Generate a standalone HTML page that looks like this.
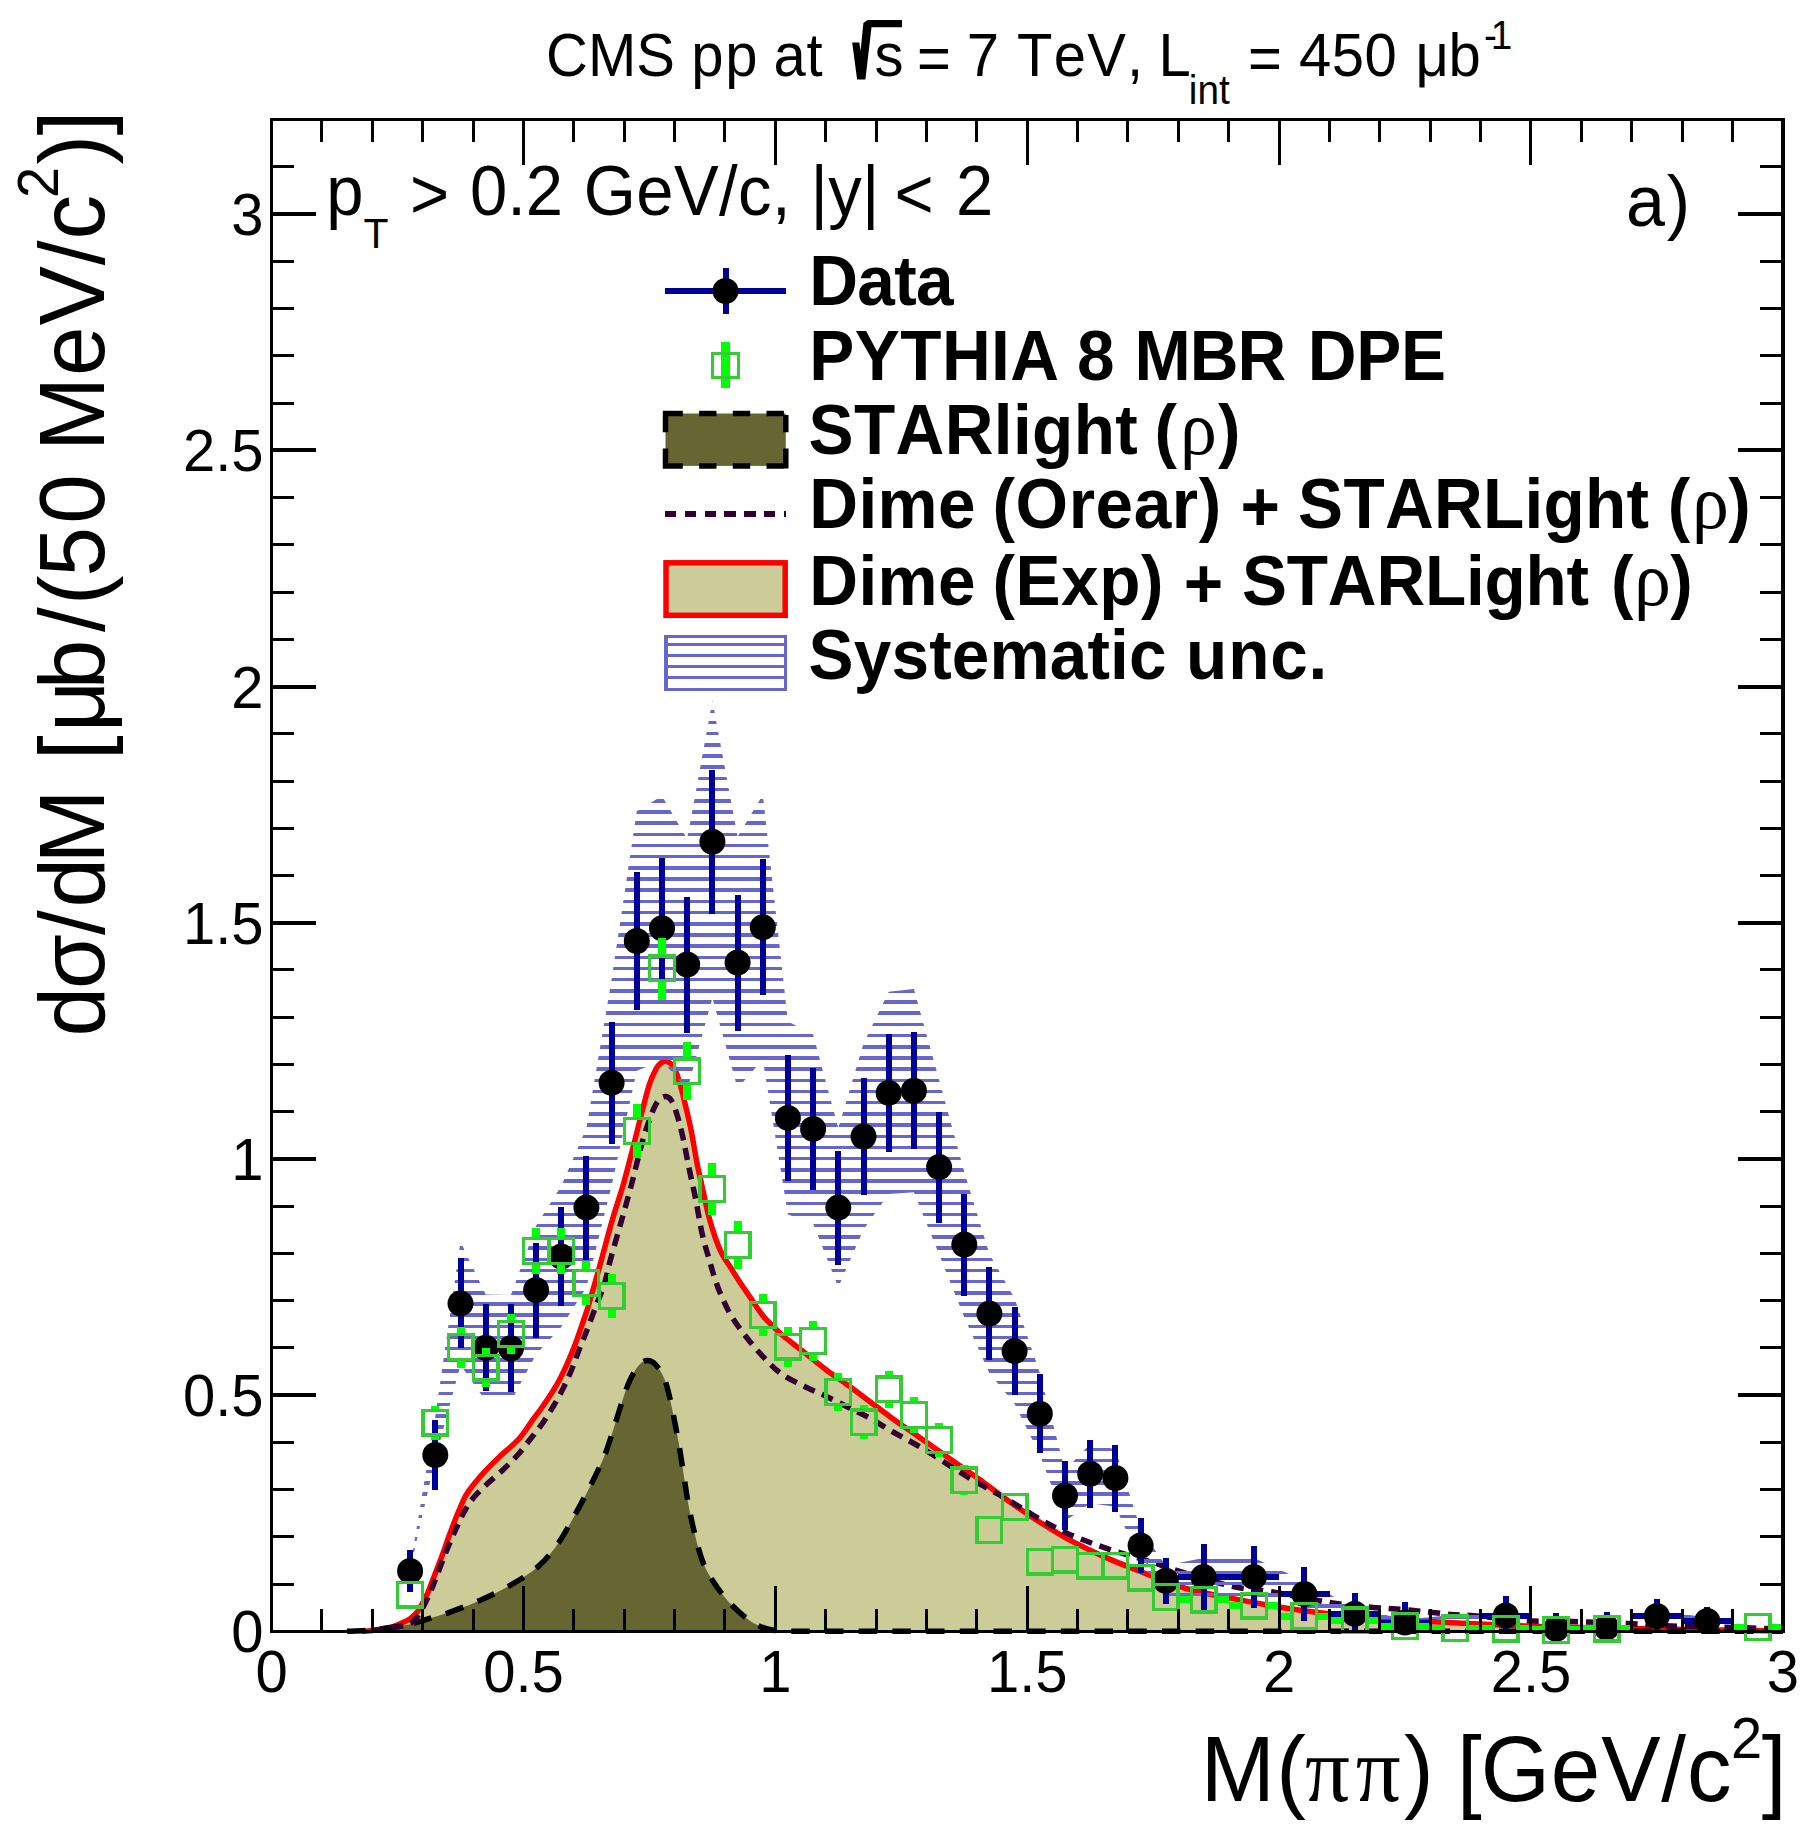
<!DOCTYPE html>
<html lang="en"><head><meta charset="utf-8"><title>CMS pp at 7 TeV - M(pipi) exclusive cross section</title>
<style>
html,body{margin:0;padding:0;background:#fff;}
body{width:1818px;height:1840px;overflow:hidden;}
svg{display:block;}
text{font-family:"Liberation Sans",sans-serif;fill:#000;font-kerning:none;white-space:pre;}
.b{font-weight:bold;}
.gr{font-family:"Liberation Serif",serif;font-weight:normal;}
.tk{font-size:58px;}
</style></head><body>
<svg width="1818" height="1840" viewBox="0 0 1818 1840">
<rect x="0" y="0" width="1818" height="1840" fill="#fff"/>
<path d="M362,1631.3C363.6,1631.2 366.9,1631.2 371.6,1630.6C376.3,1630 385.3,1628.6 390,1627.5C394.7,1626.4 396.7,1625.2 400,1623.8C403.3,1622.4 406.9,1621.1 409.9,1618.9C412.9,1616.7 415.4,1614.4 418.2,1610.6C420.9,1606.8 423.9,1601 426.4,1595.8C428.9,1590.6 430.5,1585.6 433,1579.3C435.5,1573 438.6,1565.2 441.3,1557.8C444.1,1550.4 446.8,1542.1 449.5,1534.7C452.2,1527.3 455.1,1519.9 457.8,1513.3C460.6,1506.7 463.2,1500 466,1495.1C468.8,1490.1 471,1487.7 474.3,1483.6C477.6,1479.5 481.7,1474.8 485.8,1470.4C489.9,1466 493.5,1462.4 499,1457.2C504.5,1452 513.3,1445 518.8,1439C524.3,1433 527.6,1427 532,1420.9C536.4,1414.9 541.1,1408.8 545.2,1402.7C549.3,1396.7 553.2,1390.9 556.8,1384.6C560.4,1378.3 563.7,1371.4 566.7,1364.8C569.7,1358.2 572.2,1352.1 574.9,1345C577.6,1337.9 580.6,1328.9 583,1322C585.4,1315.1 586.2,1313.3 589,1303.8C591.8,1294.3 596.2,1278.8 600,1265C603.8,1251.2 608.2,1234.2 612,1221C615.8,1207.8 619.3,1198.5 623,1185.6C626.7,1172.7 630.7,1156.6 634,1143.8C637.3,1131 640.2,1118.5 642.8,1108.6C645.4,1098.7 647.2,1091 649.4,1084.4C651.6,1077.8 654.1,1072.6 656,1069C657.9,1065.4 659.4,1064.3 661,1063C662.6,1061.7 664.3,1061.2 665.9,1061.3C667.5,1061.4 669,1062.2 670.5,1063.5C672,1064.8 673.1,1065.5 674.7,1069C676.3,1072.5 678.4,1078.2 680.2,1084.4C682,1090.6 683.9,1098.7 685.7,1106.4C687.5,1114.1 689.4,1121.4 691.2,1130.6C693,1139.8 694.9,1152 696.7,1161.4C698.5,1170.8 700.2,1177.8 702.2,1187C704.2,1196.2 706.6,1207.9 708.8,1216.4C711,1224.9 713.2,1231.7 715.4,1238C717.6,1244.3 719.5,1249.1 722,1254C724.5,1258.9 727.6,1262.8 730.6,1267.5C733.6,1272.2 736.6,1277.3 740,1282.5C743.4,1287.7 747.1,1292.8 751,1298.5C754.9,1304.2 759.7,1311.8 763.5,1316.5C767.3,1321.2 770.7,1323.9 773.8,1327C776.9,1330.1 777,1330.8 782,1335C787,1339.2 796.7,1346.4 804,1352.2C811.3,1358 818.7,1364.3 826,1369.8C833.3,1375.3 840.7,1379.9 848,1385.2C855.3,1390.5 862.7,1396.2 870,1401.7C877.3,1407.2 884.7,1412.9 892,1418.2C899.3,1423.5 906.7,1428.5 914,1433.6C921.3,1438.7 928.7,1443.9 936,1449C943.3,1454.1 950.7,1459.3 958,1464.4C965.3,1469.5 972.7,1474.5 980,1479.8C987.3,1485.1 994.7,1491 1002,1496.3C1009.3,1501.6 1016.7,1506.8 1024,1511.7C1031.3,1516.7 1038.7,1521.4 1046,1526C1053.3,1530.6 1060.7,1535.2 1068,1539.2C1075.3,1543.2 1082.7,1546.7 1090,1550.2C1097.3,1553.7 1104.7,1557 1112,1560.1C1119.3,1563.2 1126.7,1566 1134,1568.9C1141.3,1571.8 1147,1574.2 1156,1577.5C1165,1580.8 1175.3,1585.5 1188,1589C1200.7,1592.5 1216.6,1595.4 1232,1598.4C1247.4,1601.4 1265.7,1604.8 1280.4,1607.2C1295.1,1609.6 1304.2,1610.9 1320,1612.7C1335.8,1614.5 1356.7,1616.7 1375,1618.2C1393.3,1619.7 1409.8,1620.4 1430,1621.5C1450.2,1622.6 1476,1623.9 1496,1624.8C1516,1625.7 1524.3,1626.1 1550,1626.8C1575.7,1627.5 1616.7,1628.2 1650,1628.8C1683.3,1629.4 1727.8,1630.1 1750,1630.5C1772.2,1630.9 1777.5,1630.9 1783,1631 L1783,1631.3 L362,1631.3 Z" fill="#cccc99" stroke="none"/>
<path d="M362,1631.3C363.6,1631.2 366.9,1631.2 371.6,1630.6C376.3,1630 385.3,1628.6 390,1627.5C394.7,1626.4 396.7,1625.2 400,1623.8C403.3,1622.4 406.9,1621.1 409.9,1618.9C412.9,1616.7 415.4,1614.4 418.2,1610.6C420.9,1606.8 423.9,1601 426.4,1595.8C428.9,1590.6 430.5,1585.6 433,1579.3C435.5,1573 438.6,1565.2 441.3,1557.8C444.1,1550.4 446.8,1542.1 449.5,1534.7C452.2,1527.3 455.1,1519.9 457.8,1513.3C460.6,1506.7 463.2,1500 466,1495.1C468.8,1490.1 471,1487.7 474.3,1483.6C477.6,1479.5 481.7,1474.8 485.8,1470.4C489.9,1466 493.5,1462.4 499,1457.2C504.5,1452 513.3,1445 518.8,1439C524.3,1433 527.6,1427 532,1420.9C536.4,1414.9 541.1,1408.8 545.2,1402.7C549.3,1396.7 553.2,1390.9 556.8,1384.6C560.4,1378.3 563.7,1371.4 566.7,1364.8C569.7,1358.2 572.2,1352.1 574.9,1345C577.6,1337.9 580.6,1328.9 583,1322C585.4,1315.1 586.2,1313.3 589,1303.8C591.8,1294.3 596.2,1278.8 600,1265C603.8,1251.2 608.2,1234.2 612,1221C615.8,1207.8 619.3,1198.5 623,1185.6C626.7,1172.7 630.7,1156.6 634,1143.8C637.3,1131 640.2,1118.5 642.8,1108.6C645.4,1098.7 647.2,1091 649.4,1084.4C651.6,1077.8 654.1,1072.6 656,1069C657.9,1065.4 659.4,1064.3 661,1063C662.6,1061.7 664.3,1061.2 665.9,1061.3C667.5,1061.4 669,1062.2 670.5,1063.5C672,1064.8 673.1,1065.5 674.7,1069C676.3,1072.5 678.4,1078.2 680.2,1084.4C682,1090.6 683.9,1098.7 685.7,1106.4C687.5,1114.1 689.4,1121.4 691.2,1130.6C693,1139.8 694.9,1152 696.7,1161.4C698.5,1170.8 700.2,1177.8 702.2,1187C704.2,1196.2 706.6,1207.9 708.8,1216.4C711,1224.9 713.2,1231.7 715.4,1238C717.6,1244.3 719.5,1249.1 722,1254C724.5,1258.9 727.6,1262.8 730.6,1267.5C733.6,1272.2 736.6,1277.3 740,1282.5C743.4,1287.7 747.1,1292.8 751,1298.5C754.9,1304.2 759.7,1311.8 763.5,1316.5C767.3,1321.2 770.7,1323.9 773.8,1327C776.9,1330.1 777,1330.8 782,1335C787,1339.2 796.7,1346.4 804,1352.2C811.3,1358 818.7,1364.3 826,1369.8C833.3,1375.3 840.7,1379.9 848,1385.2C855.3,1390.5 862.7,1396.2 870,1401.7C877.3,1407.2 884.7,1412.9 892,1418.2C899.3,1423.5 906.7,1428.5 914,1433.6C921.3,1438.7 928.7,1443.9 936,1449C943.3,1454.1 950.7,1459.3 958,1464.4C965.3,1469.5 972.7,1474.5 980,1479.8C987.3,1485.1 994.7,1491 1002,1496.3C1009.3,1501.6 1016.7,1506.8 1024,1511.7C1031.3,1516.7 1038.7,1521.4 1046,1526C1053.3,1530.6 1060.7,1535.2 1068,1539.2C1075.3,1543.2 1082.7,1546.7 1090,1550.2C1097.3,1553.7 1104.7,1557 1112,1560.1C1119.3,1563.2 1126.7,1566 1134,1568.9C1141.3,1571.8 1147,1574.2 1156,1577.5C1165,1580.8 1175.3,1585.5 1188,1589C1200.7,1592.5 1216.6,1595.4 1232,1598.4C1247.4,1601.4 1265.7,1604.8 1280.4,1607.2C1295.1,1609.6 1304.2,1610.9 1320,1612.7C1335.8,1614.5 1356.7,1616.7 1375,1618.2C1393.3,1619.7 1409.8,1620.4 1430,1621.5C1450.2,1622.6 1476,1623.9 1496,1624.8C1516,1625.7 1524.3,1626.1 1550,1626.8C1575.7,1627.5 1616.7,1628.2 1650,1628.8C1683.3,1629.4 1727.8,1630.1 1750,1630.5C1772.2,1630.9 1777.5,1630.9 1783,1631" fill="none" stroke="#ff0000" stroke-width="5.5" stroke-linejoin="round"/>
<path d="M347,1631.3C351.1,1631.1 363.6,1630.7 371.6,1630C379.6,1629.3 388.1,1628.1 395,1627C401.9,1625.9 407.7,1624.8 413.2,1623.5C418.7,1622.2 421.9,1620.8 428,1618.9C434.1,1617 440.7,1615.5 449.5,1612.3C458.3,1609.1 470.4,1604.6 480.9,1599.9C491.3,1595.2 502.6,1589.8 512.2,1584.2C521.8,1578.6 530.9,1573 538.6,1566.1C546.3,1559.2 552.4,1551.5 558.4,1543C564.4,1534.5 569.7,1524.2 574.9,1514.9C580.1,1505.6 584.8,1496.8 589.8,1486.9C594.8,1477 600.5,1465.7 604.6,1455.5C608.7,1445.3 611.2,1436 614.5,1425.8C617.8,1415.6 621.6,1402.5 624.4,1394.5C627.1,1386.5 628.5,1383 631,1378C633.5,1373 636.5,1367.7 639.3,1364.8C642,1361.9 644.8,1360.6 647.5,1360.6C650.2,1360.6 653,1361.9 655.8,1364.8C658.5,1367.7 661.8,1373 664,1378C666.2,1383 667.4,1387.9 669,1394.5C670.6,1401.1 672.2,1409.3 673.9,1417.6C675.5,1425.8 677.2,1434.4 678.9,1444C680.5,1453.6 682.1,1464.8 683.8,1475.3C685.4,1485.8 686.9,1496.5 688.8,1506.7C690.7,1516.9 693,1527 695.4,1536.4C697.8,1545.9 700.2,1555.6 703.4,1563.4C706.6,1571.2 710,1576.6 714.4,1583.2C718.8,1589.8 723.9,1596.8 729.8,1603C735.7,1609.2 743.4,1616.3 749.6,1620.6C755.8,1624.9 761.3,1627.2 767.2,1629C773.1,1630.8 782,1630.9 785,1631.3 Z" fill="#666633" stroke="none"/>
<path d="M347,1631.3C351.1,1631.1 363.6,1630.7 371.6,1630C379.6,1629.3 388.1,1628.1 395,1627C401.9,1625.9 407.7,1624.8 413.2,1623.5C418.7,1622.2 421.9,1620.8 428,1618.9C434.1,1617 440.7,1615.5 449.5,1612.3C458.3,1609.1 470.4,1604.6 480.9,1599.9C491.3,1595.2 502.6,1589.8 512.2,1584.2C521.8,1578.6 530.9,1573 538.6,1566.1C546.3,1559.2 552.4,1551.5 558.4,1543C564.4,1534.5 569.7,1524.2 574.9,1514.9C580.1,1505.6 584.8,1496.8 589.8,1486.9C594.8,1477 600.5,1465.7 604.6,1455.5C608.7,1445.3 611.2,1436 614.5,1425.8C617.8,1415.6 621.6,1402.5 624.4,1394.5C627.1,1386.5 628.5,1383 631,1378C633.5,1373 636.5,1367.7 639.3,1364.8C642,1361.9 644.8,1360.6 647.5,1360.6C650.2,1360.6 653,1361.9 655.8,1364.8C658.5,1367.7 661.8,1373 664,1378C666.2,1383 667.4,1387.9 669,1394.5C670.6,1401.1 672.2,1409.3 673.9,1417.6C675.5,1425.8 677.2,1434.4 678.9,1444C680.5,1453.6 682.1,1464.8 683.8,1475.3C685.4,1485.8 686.9,1496.5 688.8,1506.7C690.7,1516.9 693,1527 695.4,1536.4C697.8,1545.9 700.2,1555.6 703.4,1563.4C706.6,1571.2 710,1576.6 714.4,1583.2C718.8,1589.8 723.9,1596.8 729.8,1603C735.7,1609.2 743.4,1616.3 749.6,1620.6C755.8,1624.9 761.3,1627.2 767.2,1629C773.1,1630.8 782,1630.9 785,1631.3 L1783,1631.3" fill="none" stroke="#000" stroke-width="5.5" stroke-dasharray="18.5 15.2"/>
<path d="M371.6,1630.6C374.7,1630.2 384.9,1628.8 390,1628C395.1,1627.2 398.7,1626.7 402,1626C405.3,1625.3 407.2,1625.5 409.9,1623.8C412.6,1622.1 415.2,1620 418.2,1615.6C421.2,1611.2 425.1,1603.5 428,1597.4C430.9,1591.4 432.9,1585.9 435.5,1579.3C438.1,1572.7 441.1,1564.4 443.7,1557.8C446.3,1551.2 448.8,1545.2 451.2,1539.7C453.6,1534.2 455.5,1529.8 457.8,1524.8C460.1,1519.8 462.4,1514.7 465.2,1510C467.9,1505.3 470.6,1501.2 474.3,1496.8C478,1492.4 482.8,1488 487.5,1483.6C492.2,1479.2 497.4,1475.1 502.3,1470.4C507.2,1465.7 512.5,1460.7 517.2,1455.5C521.9,1450.3 526.3,1444.2 530.4,1439C534.5,1433.8 538,1429.7 541.9,1424.2C545.8,1418.7 549.9,1412 553.5,1406C557.1,1400 560.4,1394 563.4,1387.9C566.4,1381.9 569,1376 571.6,1369.7C574.2,1363.4 576.4,1356.5 579,1349.9C581.6,1343.3 584.2,1337.3 587,1330C589.8,1322.7 593.1,1313.7 596,1306C598.9,1298.3 602.1,1291.3 604.4,1284C606.7,1276.7 607.1,1272.2 609.8,1262C612.5,1251.8 617.1,1236.1 620.8,1223C624.5,1209.9 628.9,1194.4 631.8,1183.4C634.7,1172.4 636.2,1165.4 638.4,1157C640.6,1148.6 642.4,1140.9 645,1132.8C647.6,1124.7 651.3,1114.2 653.8,1108.6C656.3,1103 658,1101 660,1099C662,1097 664.1,1096.3 665.9,1096.5C667.7,1096.7 669.4,1097.6 671,1100C672.6,1102.4 673.9,1105 675.8,1110.8C677.7,1116.6 680.2,1125.5 682.4,1135C684.6,1144.5 686.8,1157.4 689,1168C691.2,1178.6 693.4,1187.8 695.6,1198.8C697.8,1209.8 700,1224.1 702.2,1234C704.4,1243.9 706.8,1251 708.8,1258C710.8,1265 712,1269.8 714,1276C716,1282.2 718,1288.2 721,1295C724,1301.8 727.2,1309.3 732,1317C736.8,1324.7 743.7,1333.9 749.6,1341.2C755.5,1348.5 761.8,1355.5 767.2,1361C772.6,1366.5 775.9,1370 782,1374.2C788.1,1378.4 796.7,1382.6 804,1386.3C811.3,1390 818.7,1392.7 826,1396.2C833.3,1399.7 840.7,1403.5 848,1407.2C855.3,1410.9 862.7,1414.2 870,1418.2C877.3,1422.2 884.7,1427.2 892,1431.4C899.3,1435.6 906.7,1439.3 914,1443.5C921.3,1447.7 928.7,1452.1 936,1456.7C943.3,1461.3 950.7,1466.4 958,1471C965.3,1475.6 972.7,1480 980,1484.2C987.3,1488.4 994.7,1492.1 1002,1496.3C1009.3,1500.5 1016.7,1505.1 1024,1509.5C1031.3,1513.9 1038.7,1518.7 1046,1522.7C1053.3,1526.7 1060.7,1530.4 1068,1533.7C1075.3,1537 1082.7,1539.8 1090,1542.5C1097.3,1545.2 1104.7,1547.8 1112,1550.2C1119.3,1552.6 1126.7,1554.6 1134,1556.8C1141.3,1559 1149.2,1561.2 1156,1563.4C1162.8,1565.6 1162.1,1566 1174.8,1569.8C1187.5,1573.6 1215.9,1582.6 1232,1586.3C1248.1,1590 1255.1,1589 1271.6,1591.8C1288.1,1594.5 1314.5,1600.2 1331,1602.8C1347.5,1605.4 1357.6,1606 1370.6,1607.2C1383.6,1608.4 1395.5,1608.8 1408.8,1610C1422.1,1611.2 1440.3,1613.5 1450.6,1614.4C1460.9,1615.3 1458,1614.5 1470.4,1615.5C1482.8,1616.5 1508.1,1619.6 1525,1620.6C1541.9,1621.6 1554.7,1621.1 1571.6,1621.6C1588.5,1622.1 1610.9,1622.7 1626.6,1623.4C1642.3,1624.1 1649.9,1625.2 1666,1625.8C1682.1,1626.4 1703.5,1626.7 1723,1627.2C1742.5,1627.7 1773,1628.7 1783,1629" fill="none" stroke="#330033" stroke-width="5.5" stroke-dasharray="12 7.8"/>
<defs><clipPath id="band"><polygon points="410.1,1567 435.3,1416 460.5,1241.8 485.7,1294.5 510.9,1295.1 536.1,1225.8 561.3,1186 586.4,1127.9 611.6,979.6 636.8,811.2 662,796 687.2,839.1 712.4,700.5 737.6,836.8 762.8,794.8 787.9,1021.4 813.1,1034.4 838.3,1127.9 863.5,1043.5 888.7,991.7 913.9,989.1 939.1,1079.8 964.3,1171.9 989.4,1253.9 1014.6,1298.4 1039.8,1372.9 1065,1470.2 1090.2,1444.1 1115.4,1449.2 1140.6,1529.4 1165.8,1565.6 1203.5,1557.9 1253.9,1557.9 1304.3,1580.9 1354.7,1607.7 1405,1619.6 1505.8,1610 1556.2,1627.8 1606.5,1626.3 1656.9,1610.6 1707.3,1617.4 1707.3,1624.6 1656.9,1621.4 1606.5,1628.9 1556.2,1629.6 1505.8,1621 1405,1625.6 1354.7,1619.9 1304.3,1607.1 1253.9,1595.9 1203.5,1595.9 1165.8,1596 1140.6,1561.6 1115.4,1506.8 1090.2,1503.3 1065,1521.2 1039.8,1454.7 1014.6,1403.8 989.4,1373.3 964.3,1317.3 939.1,1254.4 913.9,1192.3 888.7,1194.1 863.5,1229.5 838.3,1287.3 813.1,1223.4 787.9,1214.4 762.8,1059.6 737.6,1088.2 712.4,998 687.2,1089.9 662,1060.4 636.8,1070.8 611.6,1185.8 586.4,1287.3 561.3,1327 536.1,1354.2 510.9,1401.5 485.7,1401.1 460.5,1365 435.3,1459 410.1,1569.5"/></clipPath></defs>
<g clip-path="url(#band)" fill="#6666cc" shape-rendering="crispEdges">
<rect x="380" y="687" width="1410" height="4"/><rect x="380" y="698" width="1410" height="4"/><rect x="380" y="710" width="1410" height="3"/><rect x="380" y="721" width="1410" height="3"/><rect x="380" y="732" width="1410" height="3"/><rect x="380" y="743" width="1410" height="4"/><rect x="380" y="754" width="1410" height="4"/><rect x="380" y="765" width="1410" height="4"/><rect x="380" y="777" width="1410" height="3"/><rect x="380" y="788" width="1410" height="3"/><rect x="380" y="799" width="1410" height="4"/><rect x="380" y="810" width="1410" height="4"/><rect x="380" y="821" width="1410" height="4"/><rect x="380" y="833" width="1410" height="3"/><rect x="380" y="844" width="1410" height="3"/><rect x="380" y="855" width="1410" height="3"/><rect x="380" y="866" width="1410" height="4"/><rect x="380" y="877" width="1410" height="4"/><rect x="380" y="888" width="1410" height="4"/><rect x="380" y="900" width="1410" height="3"/><rect x="380" y="911" width="1410" height="3"/><rect x="380" y="922" width="1410" height="4"/><rect x="380" y="933" width="1410" height="4"/><rect x="380" y="944" width="1410" height="4"/><rect x="380" y="956" width="1410" height="3"/><rect x="380" y="967" width="1410" height="3"/><rect x="380" y="978" width="1410" height="3"/><rect x="380" y="989" width="1410" height="4"/><rect x="380" y="1000" width="1410" height="4"/><rect x="380" y="1011" width="1410" height="4"/><rect x="380" y="1023" width="1410" height="3"/><rect x="380" y="1034" width="1410" height="3"/><rect x="380" y="1045" width="1410" height="4"/><rect x="380" y="1056" width="1410" height="4"/><rect x="380" y="1067" width="1410" height="4"/><rect x="380" y="1079" width="1410" height="3"/><rect x="380" y="1090" width="1410" height="3"/><rect x="380" y="1101" width="1410" height="3"/><rect x="380" y="1112" width="1410" height="4"/><rect x="380" y="1123" width="1410" height="4"/><rect x="380" y="1135" width="1410" height="3"/><rect x="380" y="1146" width="1410" height="3"/><rect x="380" y="1157" width="1410" height="3"/><rect x="380" y="1168" width="1410" height="4"/><rect x="380" y="1179" width="1410" height="4"/><rect x="380" y="1190" width="1410" height="4"/><rect x="380" y="1202" width="1410" height="3"/><rect x="380" y="1213" width="1410" height="3"/><rect x="380" y="1224" width="1410" height="3"/><rect x="380" y="1235" width="1410" height="4"/><rect x="380" y="1246" width="1410" height="4"/><rect x="380" y="1258" width="1410" height="3"/><rect x="380" y="1269" width="1410" height="3"/><rect x="380" y="1280" width="1410" height="3"/><rect x="380" y="1291" width="1410" height="4"/><rect x="380" y="1302" width="1410" height="4"/><rect x="380" y="1313" width="1410" height="4"/><rect x="380" y="1325" width="1410" height="3"/><rect x="380" y="1336" width="1410" height="3"/><rect x="380" y="1347" width="1410" height="3"/><rect x="380" y="1358" width="1410" height="4"/><rect x="380" y="1369" width="1410" height="4"/><rect x="380" y="1381" width="1410" height="3"/><rect x="380" y="1392" width="1410" height="3"/><rect x="380" y="1403" width="1410" height="3"/><rect x="380" y="1414" width="1410" height="4"/><rect x="380" y="1425" width="1410" height="4"/><rect x="380" y="1436" width="1410" height="4"/><rect x="380" y="1448" width="1410" height="3"/><rect x="380" y="1459" width="1410" height="3"/><rect x="380" y="1470" width="1410" height="3"/><rect x="380" y="1481" width="1410" height="4"/><rect x="380" y="1492" width="1410" height="4"/><rect x="380" y="1504" width="1410" height="3"/><rect x="380" y="1515" width="1410" height="3"/><rect x="380" y="1526" width="1410" height="3"/><rect x="380" y="1537" width="1410" height="4"/><rect x="380" y="1548" width="1410" height="4"/><rect x="380" y="1559" width="1410" height="4"/><rect x="380" y="1571" width="1410" height="3"/><rect x="380" y="1582" width="1410" height="3"/><rect x="380" y="1593" width="1410" height="4"/><rect x="380" y="1604" width="1410" height="4"/><rect x="380" y="1615" width="1410" height="4"/><rect x="380" y="1627" width="1410" height="3"/>
</g>
<g fill="#000099" shape-rendering="crispEdges"><rect x="407.1" y="1550" width="6" height="42"/><rect x="432.3" y="1420" width="6" height="70"/><rect x="457.5" y="1258.4" width="6" height="90"/><rect x="482.7" y="1304.3" width="6" height="87"/><rect x="507.9" y="1304.3" width="6" height="88"/><rect x="533.1" y="1242.5" width="6" height="95"/><rect x="558.3" y="1207" width="6" height="99"/><rect x="583.4" y="1155.6" width="6" height="104"/><rect x="608.6" y="1021.7" width="6" height="122"/><rect x="633.8" y="872" width="6" height="138"/><rect x="659" y="858.2" width="6" height="140"/><rect x="684.2" y="896.5" width="6" height="136"/><rect x="709.4" y="769.7" width="6" height="144"/><rect x="734.6" y="894.5" width="6" height="136"/><rect x="759.8" y="859.2" width="6" height="136"/><rect x="784.9" y="1054.9" width="6" height="126"/><rect x="810.1" y="1067.9" width="6" height="122"/><rect x="835.3" y="1150.6" width="6" height="114"/><rect x="860.5" y="1078" width="6" height="117"/><rect x="885.7" y="1033.5" width="6" height="118.8"/><rect x="910.9" y="1032.2" width="6" height="117"/><rect x="936.1" y="1111.6" width="6" height="111"/><rect x="961.3" y="1193.6" width="6" height="102"/><rect x="986.4" y="1267.1" width="6" height="93"/><rect x="1011.6" y="1307.4" width="6" height="87.4"/><rect x="1036.8" y="1374.2" width="6" height="79.2"/><rect x="1062" y="1461.2" width="6" height="69"/><rect x="1087.2" y="1439.7" width="6" height="68"/><rect x="1112.4" y="1444.5" width="6" height="67"/><rect x="1137.6" y="1518" width="6" height="55"/><rect x="1162.8" y="1557.8" width="6" height="46"/><rect x="1200.5" y="1544.2" width="6" height="65.4"/><rect x="1178.3" y="1573.9" width="50.4" height="6"/><rect x="1250.9" y="1545.9" width="6" height="62"/><rect x="1228.7" y="1573.9" width="50.4" height="6"/><rect x="1301.3" y="1567" width="6" height="54"/><rect x="1279.1" y="1591" width="50.4" height="6"/><rect x="1351.7" y="1592.8" width="6" height="40.2"/><rect x="1329.5" y="1610.8" width="50.4" height="6"/><rect x="1402" y="1601.6" width="6" height="31.4"/><rect x="1379.8" y="1619.6" width="50.4" height="6"/><rect x="1502.8" y="1596" width="6" height="37"/><rect x="1480.6" y="1612.5" width="50.4" height="6"/><rect x="1553.2" y="1613.2" width="6" height="19.8"/><rect x="1531" y="1625.7" width="50.4" height="6"/><rect x="1603.5" y="1612.1" width="6" height="20.9"/><rect x="1581.3" y="1624.6" width="50.4" height="6"/><rect x="1653.9" y="1599" width="6" height="34"/><rect x="1631.7" y="1613" width="50.4" height="6"/><rect x="1704.3" y="1607" width="6" height="26"/><rect x="1682.1" y="1618" width="50.4" height="6"/></g>
<g fill="#000"><circle cx="410.1" cy="1571" r="13"/><circle cx="435.3" cy="1455" r="13"/><circle cx="460.5" cy="1303.4" r="13"/><circle cx="485.7" cy="1347.8" r="13"/><circle cx="510.9" cy="1348.3" r="13"/><circle cx="536.1" cy="1290" r="13"/><circle cx="561.3" cy="1256.5" r="13"/><circle cx="586.4" cy="1207.6" r="13"/><circle cx="611.6" cy="1082.7" r="13"/><circle cx="636.8" cy="941" r="13"/><circle cx="662" cy="928.2" r="13"/><circle cx="687.2" cy="964.5" r="13"/><circle cx="712.4" cy="841.7" r="13"/><circle cx="737.6" cy="962.5" r="13"/><circle cx="762.8" cy="927.2" r="13"/><circle cx="787.9" cy="1117.9" r="13"/><circle cx="813.1" cy="1128.9" r="13"/><circle cx="838.3" cy="1207.6" r="13"/><circle cx="863.5" cy="1136.5" r="13"/><circle cx="888.7" cy="1092.9" r="13"/><circle cx="913.9" cy="1090.7" r="13"/><circle cx="939.1" cy="1167.1" r="13"/><circle cx="964.3" cy="1244.6" r="13"/><circle cx="989.4" cy="1313.6" r="13"/><circle cx="1014.6" cy="1351.1" r="13"/><circle cx="1039.8" cy="1413.8" r="13"/><circle cx="1065" cy="1495.7" r="13"/><circle cx="1090.2" cy="1473.7" r="13"/><circle cx="1115.4" cy="1478" r="13"/><circle cx="1140.6" cy="1545.5" r="13"/><circle cx="1165.8" cy="1580.8" r="13"/><circle cx="1203.5" cy="1576.9" r="13"/><circle cx="1253.9" cy="1576.9" r="13"/><circle cx="1304.3" cy="1594" r="13"/><circle cx="1354.7" cy="1613.8" r="13"/><circle cx="1405" cy="1622.6" r="13"/><circle cx="1505.8" cy="1615.5" r="13"/><circle cx="1556.2" cy="1628.7" r="13"/><circle cx="1606.5" cy="1627.6" r="13"/><circle cx="1656.9" cy="1616" r="13"/><circle cx="1707.3" cy="1621" r="13"/></g>
<g fill="#00ff00" shape-rendering="crispEdges"><rect x="431.3" y="1405.6" width="8" height="4"/><rect x="431.3" y="1435.6" width="8" height="4"/><rect x="456.5" y="1326.5" width="8" height="7.5"/><rect x="456.5" y="1360" width="8" height="7.5"/><rect x="481.7" y="1348.1" width="8" height="6.5"/><rect x="481.7" y="1380.6" width="8" height="6.5"/><rect x="506.9" y="1314" width="8" height="7"/><rect x="506.9" y="1347" width="8" height="7"/><rect x="532.1" y="1228" width="8" height="10"/><rect x="532.1" y="1264" width="8" height="10"/><rect x="557.3" y="1228" width="8" height="10"/><rect x="557.3" y="1264" width="8" height="10"/><rect x="582.4" y="1260.9" width="8" height="9"/><rect x="582.4" y="1295.9" width="8" height="9"/><rect x="607.6" y="1274.1" width="8" height="9"/><rect x="607.6" y="1309.1" width="8" height="9"/><rect x="632.8" y="1104.1" width="8" height="14"/><rect x="632.8" y="1144.1" width="8" height="14"/><rect x="658" y="937.5" width="8" height="18"/><rect x="658" y="981.5" width="8" height="18"/><rect x="683.2" y="1042.2" width="8" height="16"/><rect x="683.2" y="1084.2" width="8" height="16"/><rect x="708.4" y="1162.9" width="8" height="13"/><rect x="708.4" y="1201.9" width="8" height="13"/><rect x="733.6" y="1221" width="8" height="11"/><rect x="733.6" y="1258" width="8" height="11"/><rect x="758.8" y="1293.8" width="8" height="8"/><rect x="758.8" y="1327.8" width="8" height="8"/><rect x="783.9" y="1326.7" width="8" height="7"/><rect x="783.9" y="1359.7" width="8" height="7"/><rect x="809.1" y="1320.8" width="8" height="7"/><rect x="809.1" y="1353.8" width="8" height="7"/><rect x="834.3" y="1373.1" width="8" height="5.7"/><rect x="834.3" y="1404.8" width="8" height="5.7"/><rect x="859.5" y="1405.2" width="8" height="4"/><rect x="859.5" y="1435.2" width="8" height="4"/><rect x="884.7" y="1370.5" width="8" height="5.7"/><rect x="884.7" y="1402.2" width="8" height="5.7"/><rect x="909.9" y="1396.9" width="8" height="5"/><rect x="909.9" y="1427.9" width="8" height="5"/><rect x="935.1" y="1422.8" width="8" height="4"/><rect x="935.1" y="1452.8" width="8" height="4"/><rect x="960.3" y="1465.3" width="8" height="2"/><rect x="960.3" y="1493.3" width="8" height="2"/><rect x="1178.3" y="1596" width="12.2" height="7"/><rect x="1216.5" y="1596" width="12.2" height="7"/><rect x="1228.7" y="1602" width="12.2" height="7"/><rect x="1266.9" y="1602" width="12.2" height="7"/><rect x="1279.1" y="1612.5" width="12.2" height="7"/><rect x="1317.3" y="1612.5" width="12.2" height="7"/><rect x="1329.5" y="1616.9" width="12.2" height="7"/><rect x="1367.7" y="1616.9" width="12.2" height="7"/><rect x="1379.8" y="1622.5" width="12.2" height="7"/><rect x="1418" y="1622.5" width="12.2" height="7"/><rect x="1430.2" y="1624.8" width="12.2" height="7"/><rect x="1468.4" y="1624.8" width="12.2" height="7"/><rect x="1480.6" y="1625.2" width="12.2" height="7"/><rect x="1518.8" y="1625.2" width="12.2" height="7"/><rect x="1531" y="1626.3" width="12.2" height="7"/><rect x="1569.2" y="1626.3" width="12.2" height="7"/><rect x="1581.3" y="1625.2" width="12.2" height="7"/><rect x="1619.5" y="1625.2" width="12.2" height="7"/><rect x="1732.5" y="1623.5" width="12.2" height="7"/><rect x="1770.7" y="1623.5" width="12.2" height="7"/></g>
<g fill="none" stroke="#33cc33" stroke-width="3.3" shape-rendering="crispEdges"><rect x="397.8" y="1582.4" width="24.7" height="24.7"/><rect x="423" y="1410.2" width="24.7" height="24.7"/><rect x="448.2" y="1334.7" width="24.7" height="24.7"/><rect x="473.3" y="1355.2" width="24.7" height="24.7"/><rect x="498.5" y="1321.7" width="24.7" height="24.7"/><rect x="523.7" y="1238.7" width="24.7" height="24.7"/><rect x="548.9" y="1238.7" width="24.7" height="24.7"/><rect x="574.1" y="1270.6" width="24.7" height="24.7"/><rect x="599.3" y="1283.8" width="24.7" height="24.7"/><rect x="624.5" y="1118.8" width="24.7" height="24.7"/><rect x="649.7" y="956.1" width="24.7" height="24.7"/><rect x="674.8" y="1058.9" width="24.7" height="24.7"/><rect x="700" y="1176.6" width="24.7" height="24.7"/><rect x="725.2" y="1232.7" width="24.7" height="24.7"/><rect x="750.4" y="1302.5" width="24.7" height="24.7"/><rect x="775.6" y="1334.4" width="24.7" height="24.7"/><rect x="800.8" y="1328.5" width="24.7" height="24.7"/><rect x="826" y="1379.5" width="24.7" height="24.7"/><rect x="851.2" y="1409.9" width="24.7" height="24.7"/><rect x="876.3" y="1376.9" width="24.7" height="24.7"/><rect x="901.5" y="1402.6" width="24.7" height="24.7"/><rect x="926.7" y="1427.5" width="24.7" height="24.7"/><rect x="951.9" y="1468" width="24.7" height="24.7"/><rect x="977.1" y="1517.7" width="24.7" height="24.7"/><rect x="1002.3" y="1494.6" width="24.7" height="24.7"/><rect x="1027.5" y="1549.4" width="24.7" height="24.7"/><rect x="1052.7" y="1547.2" width="24.7" height="24.7"/><rect x="1077.8" y="1553.2" width="24.7" height="24.7"/><rect x="1103" y="1553.2" width="24.7" height="24.7"/><rect x="1128.2" y="1565.4" width="24.7" height="24.7"/><rect x="1153.4" y="1584.7" width="24.7" height="24.7"/><rect x="1191.2" y="1587.2" width="24.7" height="24.7"/><rect x="1241.6" y="1593.2" width="24.7" height="24.7"/><rect x="1291.9" y="1603.7" width="24.7" height="24.7"/><rect x="1342.3" y="1608.1" width="24.7" height="24.7"/><rect x="1392.7" y="1613.7" width="24.7" height="24.7"/><rect x="1443.1" y="1616" width="24.7" height="24.7"/><rect x="1493.4" y="1616.4" width="24.7" height="24.7"/><rect x="1543.8" y="1617.5" width="24.7" height="24.7"/><rect x="1594.2" y="1616.4" width="24.7" height="24.7"/><rect x="1745.3" y="1614.7" width="24.7" height="24.7"/></g>
<g fill="#000" shape-rendering="crispEdges"><rect x="270" y="118" width="3" height="1515"/><rect x="1781" y="118" width="4" height="1515"/><rect x="270" y="118" width="1515" height="3"/><rect x="270" y="1630" width="1515" height="3"/><rect x="320" y="1609" width="3" height="23"/><rect x="320" y="119" width="3" height="23"/><rect x="371" y="1609" width="3" height="23"/><rect x="371" y="119" width="3" height="23"/><rect x="421" y="1609" width="3" height="23"/><rect x="421" y="119" width="3" height="23"/><rect x="472" y="1609" width="3" height="23"/><rect x="472" y="119" width="3" height="23"/><rect x="522" y="1586" width="3" height="46"/><rect x="522" y="119" width="3" height="46"/><rect x="572" y="1609" width="3" height="23"/><rect x="572" y="119" width="3" height="23"/><rect x="623" y="1609" width="3" height="23"/><rect x="623" y="119" width="3" height="23"/><rect x="673" y="1609" width="3" height="23"/><rect x="673" y="119" width="3" height="23"/><rect x="723" y="1609" width="3" height="23"/><rect x="723" y="119" width="3" height="23"/><rect x="774" y="1586" width="3" height="46"/><rect x="774" y="119" width="3" height="46"/><rect x="824" y="1609" width="3" height="23"/><rect x="824" y="119" width="3" height="23"/><rect x="875" y="1609" width="3" height="23"/><rect x="875" y="119" width="3" height="23"/><rect x="925" y="1609" width="3" height="23"/><rect x="925" y="119" width="3" height="23"/><rect x="975" y="1609" width="3" height="23"/><rect x="975" y="119" width="3" height="23"/><rect x="1026" y="1586" width="3" height="46"/><rect x="1026" y="119" width="3" height="46"/><rect x="1076" y="1609" width="3" height="23"/><rect x="1076" y="119" width="3" height="23"/><rect x="1126" y="1609" width="3" height="23"/><rect x="1126" y="119" width="3" height="23"/><rect x="1177" y="1609" width="3" height="23"/><rect x="1177" y="119" width="3" height="23"/><rect x="1227" y="1609" width="3" height="23"/><rect x="1227" y="119" width="3" height="23"/><rect x="1278" y="1586" width="3" height="46"/><rect x="1278" y="119" width="3" height="46"/><rect x="1328" y="1609" width="3" height="23"/><rect x="1328" y="119" width="3" height="23"/><rect x="1378" y="1609" width="3" height="23"/><rect x="1378" y="119" width="3" height="23"/><rect x="1429" y="1609" width="3" height="23"/><rect x="1429" y="119" width="3" height="23"/><rect x="1479" y="1609" width="3" height="23"/><rect x="1479" y="119" width="3" height="23"/><rect x="1529" y="1586" width="3" height="46"/><rect x="1529" y="119" width="3" height="46"/><rect x="1580" y="1609" width="3" height="23"/><rect x="1580" y="119" width="3" height="23"/><rect x="1630" y="1609" width="3" height="23"/><rect x="1630" y="119" width="3" height="23"/><rect x="1681" y="1609" width="3" height="23"/><rect x="1681" y="119" width="3" height="23"/><rect x="1731" y="1609" width="3" height="23"/><rect x="1731" y="119" width="3" height="23"/><rect x="271" y="1583" width="23" height="3"/><rect x="1760" y="1583" width="23" height="3"/><rect x="271" y="1535" width="23" height="3"/><rect x="1760" y="1535" width="23" height="3"/><rect x="271" y="1488" width="23" height="3"/><rect x="1760" y="1488" width="23" height="3"/><rect x="271" y="1441" width="23" height="3"/><rect x="1760" y="1441" width="23" height="3"/><rect x="271" y="1393" width="45" height="4"/><rect x="1738" y="1393" width="45" height="4"/><rect x="271" y="1346" width="23" height="3"/><rect x="1760" y="1346" width="23" height="3"/><rect x="271" y="1299" width="23" height="3"/><rect x="1760" y="1299" width="23" height="3"/><rect x="271" y="1252" width="23" height="3"/><rect x="1760" y="1252" width="23" height="3"/><rect x="271" y="1205" width="23" height="3"/><rect x="1760" y="1205" width="23" height="3"/><rect x="271" y="1157" width="45" height="4"/><rect x="1738" y="1157" width="45" height="4"/><rect x="271" y="1110" width="23" height="3"/><rect x="1760" y="1110" width="23" height="3"/><rect x="271" y="1063" width="23" height="3"/><rect x="1760" y="1063" width="23" height="3"/><rect x="271" y="1016" width="23" height="3"/><rect x="1760" y="1016" width="23" height="3"/><rect x="271" y="968" width="23" height="3"/><rect x="1760" y="968" width="23" height="3"/><rect x="271" y="921" width="45" height="4"/><rect x="1738" y="921" width="45" height="4"/><rect x="271" y="874" width="23" height="3"/><rect x="1760" y="874" width="23" height="3"/><rect x="271" y="827" width="23" height="3"/><rect x="1760" y="827" width="23" height="3"/><rect x="271" y="780" width="23" height="3"/><rect x="1760" y="780" width="23" height="3"/><rect x="271" y="732" width="23" height="3"/><rect x="1760" y="732" width="23" height="3"/><rect x="271" y="685" width="45" height="4"/><rect x="1738" y="685" width="45" height="4"/><rect x="271" y="638" width="23" height="3"/><rect x="1760" y="638" width="23" height="3"/><rect x="271" y="591" width="23" height="3"/><rect x="1760" y="591" width="23" height="3"/><rect x="271" y="543" width="23" height="3"/><rect x="1760" y="543" width="23" height="3"/><rect x="271" y="496" width="23" height="3"/><rect x="1760" y="496" width="23" height="3"/><rect x="271" y="448" width="45" height="4"/><rect x="1738" y="448" width="45" height="4"/><rect x="271" y="402" width="23" height="3"/><rect x="1760" y="402" width="23" height="3"/><rect x="271" y="354" width="23" height="3"/><rect x="1760" y="354" width="23" height="3"/><rect x="271" y="307" width="23" height="3"/><rect x="1760" y="307" width="23" height="3"/><rect x="271" y="260" width="23" height="3"/><rect x="1760" y="260" width="23" height="3"/><rect x="271" y="212" width="45" height="4"/><rect x="1738" y="212" width="45" height="4"/><rect x="271" y="165" width="23" height="3"/><rect x="1760" y="165" width="23" height="3"/></g>
<text class="tk" transform="translate(263.5,1652.3) scale(1,1.03)" text-anchor="end">0</text>
<text class="tk" transform="translate(271.6,1691.5) scale(1,1.03)" text-anchor="middle">0</text>
<text class="tk" transform="translate(263.5,1416.1) scale(1,1.03)" text-anchor="end">0.5</text>
<text class="tk" transform="translate(523.5,1691.5) scale(1,1.03)" text-anchor="middle">0.5</text>
<text class="tk" transform="translate(263.5,1179.9) scale(1,1.03)" text-anchor="end">1</text>
<text class="tk" transform="translate(775.4,1691.5) scale(1,1.03)" text-anchor="middle">1</text>
<text class="tk" transform="translate(263.5,943.7) scale(1,1.03)" text-anchor="end">1.5</text>
<text class="tk" transform="translate(1027.2,1691.5) scale(1,1.03)" text-anchor="middle">1.5</text>
<text class="tk" transform="translate(263.5,707.6) scale(1,1.03)" text-anchor="end">2</text>
<text class="tk" transform="translate(1279.1,1691.5) scale(1,1.03)" text-anchor="middle">2</text>
<text class="tk" transform="translate(263.5,471.4) scale(1,1.03)" text-anchor="end">2.5</text>
<text class="tk" transform="translate(1531,1691.5) scale(1,1.03)" text-anchor="middle">2.5</text>
<text class="tk" transform="translate(263.5,235.2) scale(1,1.03)" text-anchor="end">3</text>
<text class="tk" transform="translate(1782.8,1691.5) scale(1,1.03)" text-anchor="middle">3</text>
<text transform="translate(546.1,76) scale(1,1.04)" font-size="58">CMS</text>
<text transform="translate(691.3,76) scale(1,1.04)" font-size="58" letter-spacing="1.65">pp</text>
<text transform="translate(773.4,76) scale(1,1.04)" font-size="58" letter-spacing="0.73">at</text>
<text transform="translate(874.5,76) scale(1,1.04)" font-size="58">s</text>
<text transform="translate(917,78.9) scale(1,1.04)" font-size="58">=</text>
<text transform="translate(966.8,76) scale(1,1.04)" font-size="58">7</text>
<text transform="translate(1017.1,76) scale(1,1.04)" font-size="58" letter-spacing="1.20">TeV,</text>
<text transform="translate(1158.6,76) scale(1,1.04)" font-size="58">L</text>
<text transform="translate(1248.1,78.9) scale(1,1.04)" font-size="58">=</text>
<text transform="translate(1298.9,76) scale(1,1.04)" font-size="58" letter-spacing="0.57">450</text>
<text transform="translate(1415.4,76) scale(1,1.04)" font-size="58" letter-spacing="-0.28">μb</text>
<text transform="translate(1188.8,103.8) scale(1,1.04)" font-size="38.7">int</text>
<text transform="translate(1484.1,48.6) scale(1,1.04)" font-size="38.7" letter-spacing="-6.18">-1</text>
<polygon fill="#000" points="852.2,42.6 859.3,42.6 860.6,51 863.4,23.1 867.5,20.1 902,20.1 902,27.2 871.5,27.2 865.4,79.5 857.1,79.5"/>
<text transform="translate(326.2,214.5) scale(1,1.04)" font-size="67">p</text>
<text transform="translate(409.9,217.8) scale(1,1.04)" font-size="67">&gt;</text>
<text transform="translate(470,214.5) scale(1,1.04)" font-size="67">0.2</text>
<text transform="translate(583.8,214.5) scale(1,1.04)" font-size="67" letter-spacing="0.39">GeV/c,</text>
<text transform="translate(810.4,214.5) scale(1,1.04)" font-size="67" letter-spacing="0.36">|y|</text>
<text transform="translate(894.4,217.8) scale(1,1.04)" font-size="67">&lt;</text>
<text transform="translate(956,214.5) scale(1,1.04)" font-size="67">2</text>
<text transform="translate(363.6,247.7) scale(1,1.04)" font-size="41">T</text>
<text transform="translate(1625.9,226) scale(1,1.04)" font-size="70" letter-spacing="1.92">a)</text>
<text transform="translate(1200.7,1801) scale(1,1.04)" font-size="89">M</text>
<text transform="translate(1276.3,1801) scale(1,1.04)" font-size="89">(</text>
<text class="gr" transform="translate(1305.1,1801) scale(1,1.04)" font-size="89" letter-spacing="5.78">ππ</text>
<text transform="translate(1404.1,1801) scale(1,1.04)" font-size="89">)</text>
<text transform="translate(1457.1,1801) scale(1,1.04)" font-size="89">[</text>
<text transform="translate(1480.8,1801) scale(1,1.04)" font-size="89" letter-spacing="0.83">GeV/c</text>
<text transform="translate(1730.9,1758) scale(1,1.04)" font-size="56">2</text>
<text transform="translate(1761.8,1801) scale(1,1.04)" font-size="89">]</text>
<g transform="translate(104.1,1040) rotate(-90)">
<text transform="translate(3.5,0) scale(1,1.04)" font-size="89">d</text>
<text transform="translate(51,0) scale(1,1.04)" font-size="89">σ</text>
<text transform="translate(105,0) scale(1,1.04)" font-size="89">/</text>
<text transform="translate(132.6,0) scale(1,1.04)" font-size="89">d</text>
<text transform="translate(176.5,0) scale(1,1.04)" font-size="89">M</text>
<text transform="translate(280.1,0) scale(1,1.04)" font-size="89">[</text>
<text transform="translate(308.1,0) scale(1,1.04)" font-size="89">μ</text>
<text transform="translate(350.7,0) scale(1,1.04)" font-size="89">b</text>
<text transform="translate(408,0) scale(1,1.04)" font-size="89">/</text>
<text transform="translate(435.1,0) scale(1,1.04)" font-size="89">(</text>
<text transform="translate(463.6,0) scale(1,1.04)" font-size="89" letter-spacing="3.07">50</text>
<text transform="translate(588.9,0) scale(1,1.04)" font-size="89" letter-spacing="0.97">MeV/c</text>
<text transform="translate(875.6,0) scale(1,1.04)" font-size="89">)</text>
<text transform="translate(904.5,0) scale(1,1.04)" font-size="89">]</text>
<text transform="translate(842.1,-45.7) scale(1,1.04)" font-size="56">2</text>
</g>
<g shape-rendering="crispEdges"><rect x="665" y="288" width="121" height="6" fill="#000099"/><rect x="723" y="268" width="6" height="46" fill="#000099"/></g>
<circle cx="725.5" cy="291" r="13" fill="#000"/>
<g shape-rendering="crispEdges"><rect x="721" y="342" width="9" height="46" fill="#00ff00"/><rect x="712.8" y="353" width="25.3" height="24" fill="none" stroke="#33cc33" stroke-width="3"/></g>
<rect x="665.5" y="413.5" width="120.3" height="52.4" fill="#666633"/>
<path d="M662.8,465.9H788.5M785.8,468.6V410.8M662.8,413.5H788.5M665.5,468.6V410.8" fill="none" stroke="#000" stroke-width="5.5" stroke-dasharray="20 16.3 17.4 16.3 17.4 16.3 17.4 16.3"/>
<path d="M665,514H786" stroke="#330033" stroke-width="6" stroke-dasharray="11.3 8.5" fill="none" shape-rendering="crispEdges"/>
<rect x="666" y="562.8" width="119.2" height="52.5" fill="#cccc99" stroke="#ff0000" stroke-width="5.5"/>
<g shape-rendering="crispEdges"><rect x="665.9" y="636.6" width="119.3" height="52.8" fill="none" stroke="#6666cc" stroke-width="3.4"/>
<g fill="#6666cc"><rect x="666" y="643" width="119" height="3"/><rect x="666" y="654" width="119" height="3"/><rect x="666" y="665" width="119" height="3"/><rect x="666" y="676" width="119" height="3"/></g></g>
<text class="b" transform="translate(809.3,304.8) scale(1,1.04)" font-size="67.5" letter-spacing="-0.68">Data</text>
<text class="b" transform="translate(809.3,379.5) scale(1,1.04)" font-size="67.5" letter-spacing="0.44">PYTHIA</text>
<text class="b" transform="translate(1077,379.5) scale(1,1.04)" font-size="67.5">8</text>
<text class="b" transform="translate(1134.4,379.5) scale(1,1.04)" font-size="67.5" letter-spacing="-0.93">MBR</text>
<text class="b" transform="translate(1307.7,379.5) scale(1,1.04)" font-size="67.5" letter-spacing="-0.18">DPE</text>
<text class="b" transform="translate(808.5,453.8) scale(1,1.04)" font-size="67.5" letter-spacing="0.38">STARlight</text>
<text class="b" transform="translate(1154.4,453.8) scale(1,1.04)" font-size="67.5">(</text>
<text class="gr" transform="translate(1179.9,453.8) scale(1,1.04)" font-size="74">ρ</text>
<text class="b" transform="translate(1217.9,453.8) scale(1,1.04)" font-size="67.5">)</text>
<text class="b" transform="translate(809.3,527.6) scale(1,1.04)" font-size="67.5" letter-spacing="0.40">Dime</text>
<text class="b" transform="translate(992.4,527.6) scale(1,1.04)" font-size="67.5" letter-spacing="0.63">(Orear)</text>
<text class="b" transform="translate(1240.5,531) scale(1,1.04)" font-size="67.5">+</text>
<text class="b" transform="translate(1298.1,527.6) scale(1,1.04)" font-size="67.5" letter-spacing="0.27">STARLight</text>
<text class="b" transform="translate(1667.8,527.6) scale(1,1.04)" font-size="67.5">(</text>
<text class="b" transform="translate(1728.3,527.6) scale(1,1.04)" font-size="67.5">)</text>
<text class="gr" transform="translate(1691.9,527.6) scale(1,1.04)" font-size="74">ρ</text>
<text class="b" transform="translate(809.3,604.8) scale(1,1.04)" font-size="67.5" letter-spacing="0.40">Dime</text>
<text class="b" transform="translate(992.4,604.8) scale(1,1.04)" font-size="67.5" letter-spacing="0.59">(Exp)</text>
<text class="b" transform="translate(1183.8,608.2) scale(1,1.04)" font-size="67.5">+</text>
<text class="b" transform="translate(1242,604.8) scale(1,1.04)" font-size="67.5" letter-spacing="-0.20">STARLight</text>
<text class="b" transform="translate(1610.9,604.8) scale(1,1.04)" font-size="67.5">(</text>
<text class="b" transform="translate(1670.3,604.8) scale(1,1.04)" font-size="67.5">)</text>
<text class="gr" transform="translate(1633.9,604.8) scale(1,1.04)" font-size="74">ρ</text>
<text class="b" transform="translate(808.6,679) scale(1,1.04)" font-size="67.5" letter-spacing="0.17">Systematic</text>
<text class="b" transform="translate(1186.1,679) scale(1,1.04)" font-size="67.5" letter-spacing="0.83">unc.</text>
</svg>
</body></html>
